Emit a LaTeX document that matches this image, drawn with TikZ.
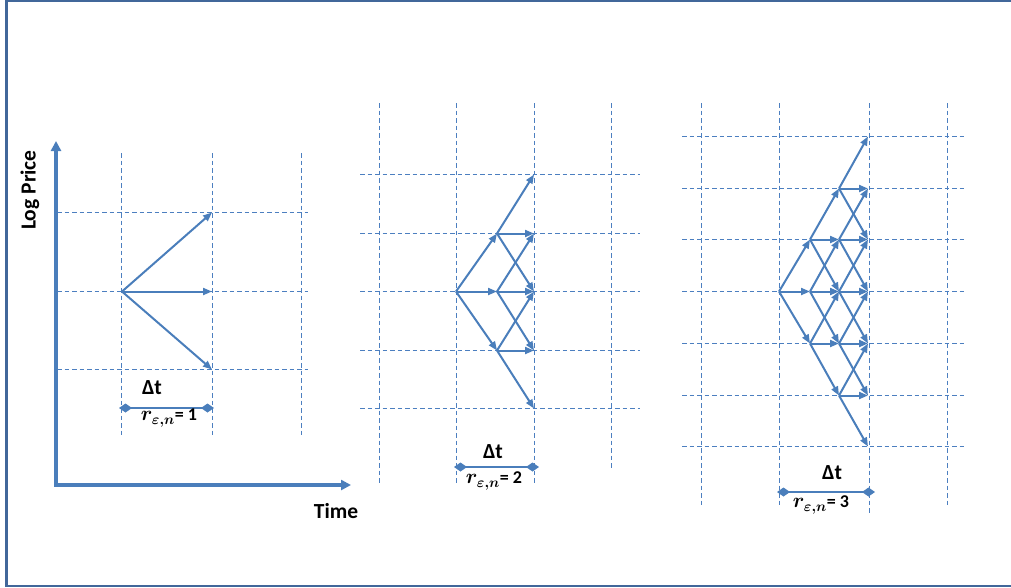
\documentclass[tikz,border=0pt]{standalone}
\usepackage{fontspec}
\setmainfont{Carlito}
\usetikzlibrary{arrows.meta}
\definecolor{framec}{HTML}{41679A}
\definecolor{lb}{HTML}{4A7EBB}
\definecolor{gridc}{HTML}{4C7FC0}
\tikzset{
  gridline/.style={gridc, line width=1.3pt, dash pattern=on 4.5pt off 3pt},
  branch/.style={lb, line width=2pt, -{Triangle[length=9pt,width=7pt]}},
  axis/.style={lb, line width=3.2pt, {Triangle[length=10pt,width=10pt]}-{Triangle[length=10pt,width=10pt]}},
  span/.style={lb, line width=2.4pt, {Diamond[length=13pt,width=9pt]}-{Diamond[length=13pt,width=9pt]}},
  lbl/.style={font=\bfseries\fontsize{21.5}{24}\selectfont, inner sep=0pt},
  rlbl/.style={font=\bfseries\fontsize{18}{20}\selectfont, inner sep=0pt},
}
\newcommand{\rsym}{{\fontsize{22}{24}\selectfont\boldmath$r_{\varepsilon,n}$}}
\begin{document}
\begin{tikzpicture}[x=1pt,y=-1pt]
\useasboundingbox (0,0) rectangle (1011,587);
% frame
\draw[framec, line width=2pt] (1011,1) -- (6.5,1);
\draw[framec, line width=2pt] (6.5,586) -- (1011,586);
\draw[framec, line width=3.2pt] (6.5,0) -- (6.5,587);

% ---------- panel 1 ----------
\foreach \x in {121.5,212.5,301.5} \draw[gridline] (\x,153) -- (\x,435);
\foreach \y in {212.5,291.5,369.5} \draw[gridline] (57,\y) -- (308,\y);
\coordinate (ytop) at (56,141);
\coordinate (orig) at (56,485);
\coordinate (xend) at (351,485);
\draw[axis] (ytop) -- (orig) -- (xend);
\node[lbl, rotate=90] (ylab) at (30,190) {Log Price};
\node[lbl] (xlab) at (336,511) {Time};

\coordinate (a0) at (122,291.5);
\coordinate (a1) at (212,212.5);
\coordinate (a2) at (212,291.5);
\coordinate (a3) at (212,369.5);
\draw[branch] (a0) -- (a1);
\draw[branch] (a0) -- (a2);
\draw[branch] (a0) -- (a3);

\coordinate (s1a) at (119,408);
\coordinate (s1b) at (214,408);
\draw[span] (s1a) -- (s1b);
\node[lbl] (dt1) at (152,388) {Δt};
\node[rlbl] (r1) at (169,418) {\rsym= 1};

% ---------- panel 2 ----------
\foreach \x in {379.5,456.5,534.5} \draw[gridline] (\x,103) -- (\x,483);
\draw[gridline] (611.5,103) -- (611.5,470);
\foreach \i/\y in {0/174.5,1/233.5,2/291.5,3/350.5,4/408.5} {
  \draw[gridline] (360,\y) -- (640,\y);
  \foreach \k/\x in {0/456,1/497,2/534}
    \coordinate (b\k-\i) at (\x,\y);
}
\foreach \k in {0,1} {
  \pgfmathtruncatemacro\lo{2-\k}
  \pgfmathtruncatemacro\hi{2+\k}
  \pgfmathtruncatemacro\kn{\k+1}
  \foreach \i in {\lo,...,\hi} {
    \pgfmathtruncatemacro\im{\i-1}
    \pgfmathtruncatemacro\ip{\i+1}
    \draw[branch] (b\k-\i) -- (b\kn-\im);
    \draw[branch] (b\k-\i) -- (b\kn-\i);
    \draw[branch] (b\k-\i) -- (b\kn-\ip);
  }
}
\coordinate (s2a) at (454,467);
\coordinate (s2b) at (539,467);
\draw[span] (s2a) -- (s2b);
\node[lbl] (dt2) at (493,452) {Δt};
\node[rlbl] (r2) at (494,481) {\rsym= 2};

% ---------- panel 3 ----------
\foreach \x in {701.5,779.5,947.5} \draw[gridline] (\x,103) -- (\x,507);
\draw[gridline] (869.5,103) -- (869.5,515);
\foreach \i/\y in {0/136.5,1/188.5,2/239.5,3/291.5,4/343.5,5/395.5,6/446.5} {
  \draw[gridline] (682,\y) -- (967,\y);
  \foreach \k/\x in {0/779,1/810,2/839,3/868}
    \coordinate (c\k-\i) at (\x,\y);
}
\foreach \k in {0,1,2} {
  \pgfmathtruncatemacro\lo{3-\k}
  \pgfmathtruncatemacro\hi{3+\k}
  \pgfmathtruncatemacro\kn{\k+1}
  \foreach \i in {\lo,...,\hi} {
    \pgfmathtruncatemacro\im{\i-1}
    \pgfmathtruncatemacro\ip{\i+1}
    \draw[branch] (c\k-\i) -- (c\kn-\im);
    \draw[branch] (c\k-\i) -- (c\kn-\i);
    \draw[branch] (c\k-\i) -- (c\kn-\ip);
  }
}
\coordinate (s3a) at (777,492);
\coordinate (s3b) at (875,492);
\draw[span] (s3a) -- (s3b);
\node[lbl] (dt3) at (832,473) {Δt};
\node[rlbl] (r3) at (821,505) {\rsym= 3};
\end{tikzpicture}
\end{document}
